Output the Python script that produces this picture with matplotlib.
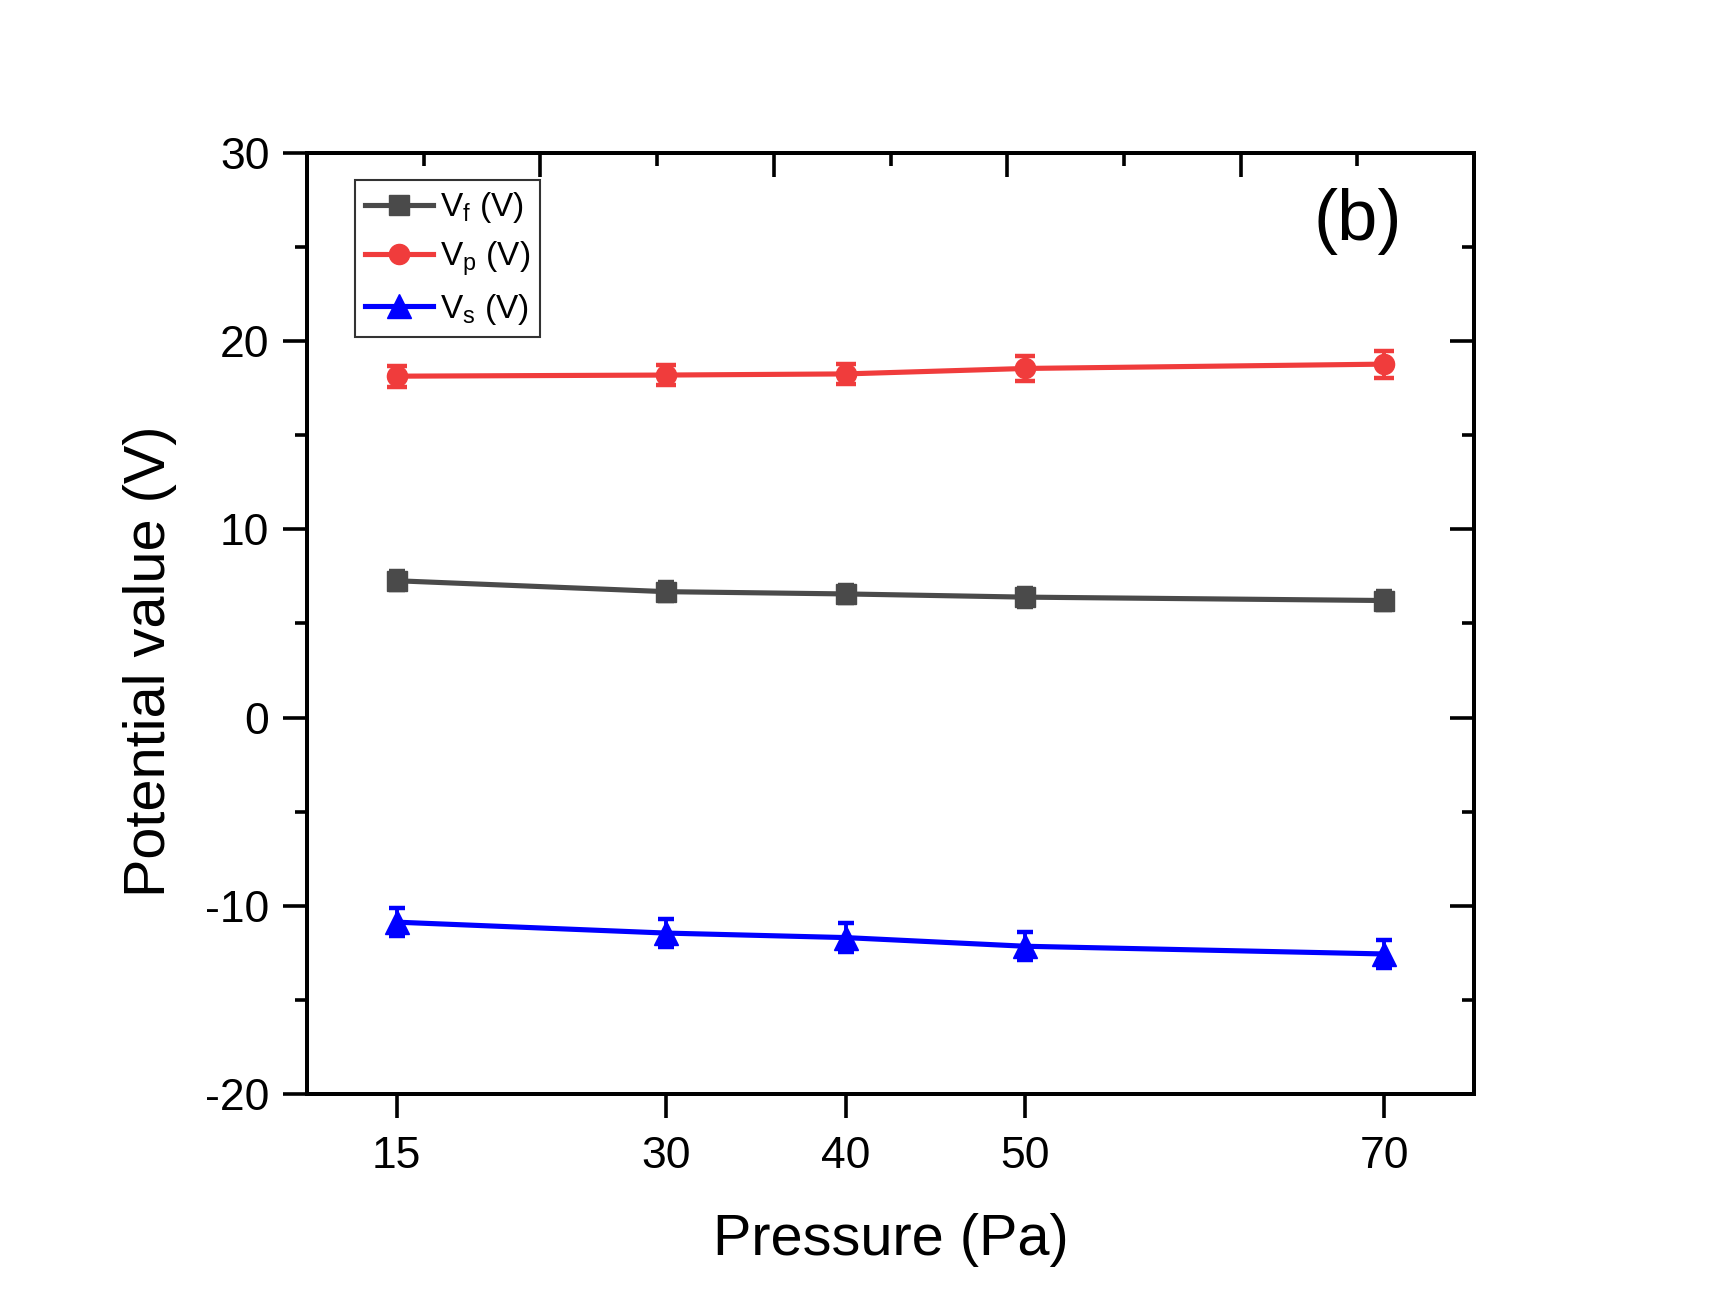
import numpy as np
import matplotlib
matplotlib.use("Agg")
import matplotlib.pyplot as plt
from matplotlib.ticker import MultipleLocator

plt.rcParams['font.family'] = ['Liberation Sans', 'DejaVu Sans']
plt.rcParams['mathtext.fontset'] = 'custom'
plt.rcParams['mathtext.rm'] = 'Liberation Sans'
plt.rcParams['mathtext.it'] = 'Liberation Sans'
plt.rcParams['axes.unicode_minus'] = False

# data
pressure = [15, 30, 40, 50, 70]
vf = [7.27, 6.69, 6.57, 6.40, 6.22]
vf_err = [0.5, 0.5, 0.5, 0.5, 0.5]
vp = [18.14, 18.20, 18.26, 18.55, 18.78]
vp_err = [0.55, 0.55, 0.55, 0.65, 0.72]
vs = [-10.87, -11.45, -11.69, -12.15, -12.56]
vs_err = [0.75, 0.75, 0.75, 0.75, 0.72]
labels = [r'V$_\mathregular{f}$ (V)', r'V$_\mathregular{p}$ (V)', r'V$_\mathregular{s}$ (V)']

fig = plt.figure(figsize=(17.15, 13.13), dpi=100)
ax = fig.add_axes([0.179, 0.1668, 0.6805, 0.7167])

series = [
    (vf, vf_err, '#4a4a4a', 's', 14.5, 6),
    (vp, vp_err, '#f03c3c', 'o', 14.5, 7),
    (vs, vs_err, '#0000ff', '^', 17, 5.5),
]
handles = []
for (y, err, c, m, ms, cs), lab in zip(series, labels):
    eb = ax.errorbar(pressure, y, yerr=err, color=c, marker=m, markersize=ms,
                     linewidth=3.7, elinewidth=2.8, capsize=cs, capthick=3.2,
                     label=lab)
    handles.append(eb[0])

ax.set_xlim(10, 75)
ax.set_ylim(-20, 30)
ax.set_xticks(pressure)
ax.set_xticklabels([str(p) for p in pressure])
ax.yaxis.set_major_locator(MultipleLocator(10))
ax.yaxis.set_minor_locator(MultipleLocator(5))
ax.tick_params(axis='both', which='major', direction='out', length=17, width=2.6,
               labelsize=32, pad=10)
ax.tick_params(axis='y', which='minor', direction='out', length=9, width=2.6)
ax.tick_params(axis='x', pad=13)

# right and top axes: inward ticks only
ax_r = ax.twinx()
ax_r.set_ylim(-20, 30)
ax_r.yaxis.set_major_locator(MultipleLocator(10))
ax_r.yaxis.set_minor_locator(MultipleLocator(5))
ax_r.tick_params(axis='y', which='major', direction='in', length=17, width=2.6, labelright=False)
ax_r.tick_params(axis='y', which='minor', direction='in', length=9, width=2.6)

ax_t = ax.twiny()
ax_t.set_xlim(0, 1)
ax_t.xaxis.set_major_locator(MultipleLocator(0.2))
ax_t.xaxis.set_minor_locator(MultipleLocator(0.1))
ax_t.tick_params(axis='x', which='major', direction='in', length=17, width=2.6, labeltop=False)
ax_t.tick_params(axis='x', which='minor', direction='in', length=9, width=2.6)

for a in (ax, ax_r, ax_t):
    for s in a.spines.values():
        s.set_linewidth(2.8)

ax.set_xlabel('Pressure (Pa)', fontsize=41.5, labelpad=26)
ax.set_ylabel('Potential value (V)', fontsize=41.5, labelpad=20)
ax.yaxis.label.set_y(0.46)

ax_t.text(0.90, 0.927, '(b)', transform=ax.transAxes, fontsize=52,
          ha='center', va='center')

leg = ax_t.legend(handles, labels, loc='upper left', bbox_to_anchor=(0.041, 0.971),
                  borderaxespad=0, fontsize=24, handlelength=2.05, handletextpad=0.2,
                  labelspacing=0.42, borderpad=0.3, fancybox=False, frameon=True,
                  edgecolor='black')
leg.get_frame().set_linewidth(1.5)

fig.savefig('out.png', dpi=100, facecolor='white')
